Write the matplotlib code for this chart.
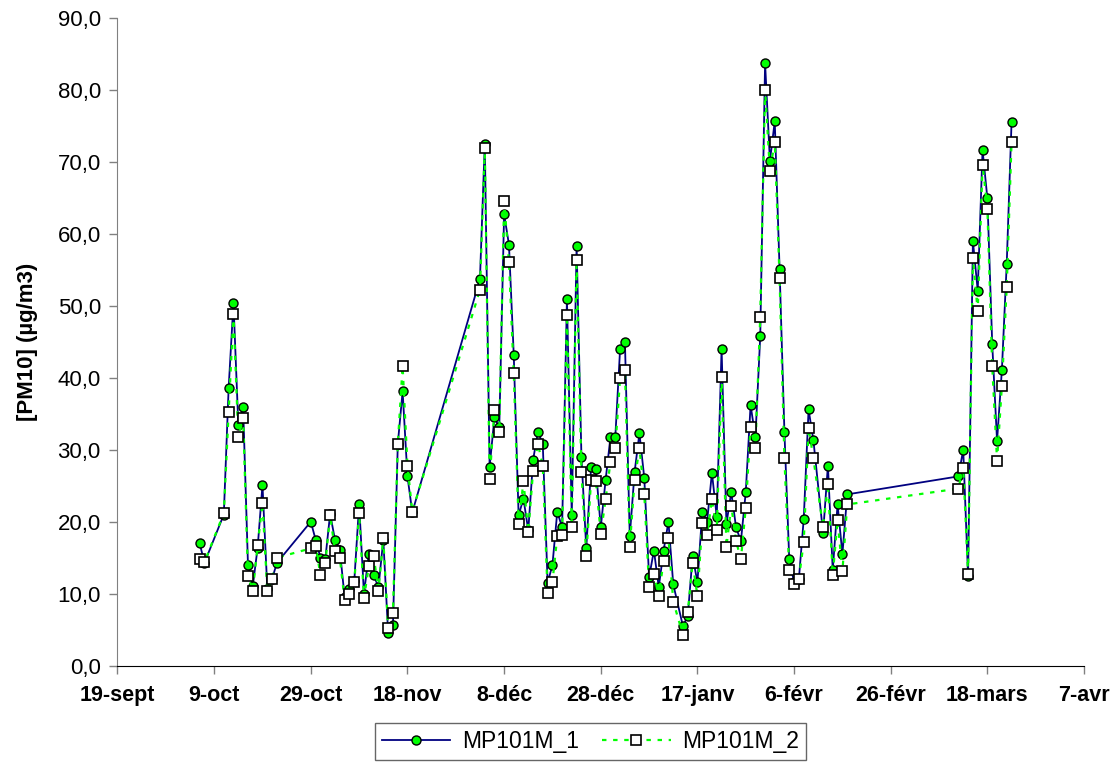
import datetime as dt
import matplotlib
matplotlib.use("Agg")
import matplotlib.pyplot as plt
import matplotlib.dates as mdates
from matplotlib.ticker import FuncFormatter

# --------------------------------
# DATA
# --------------------------------
start = dt.datetime(2006, 9, 19)

# day offsets from 19-sept
days = [17, 18, 22, 23, 24, 25, 26, 27, 28, 29, 30, 31, 32, 33,
        40, 41, 42, 43, 44, 45, 46, 47, 48, 49, 50, 51, 52, 53, 54, 55,
        56, 57, 58, 59, 60, 61,
        75, 76, 77, 78, 79, 80, 81, 82, 83, 84, 85, 86, 87, 88, 89, 90,
        91, 92, 93, 94, 95, 96, 97, 98, 99, 100, 101, 102, 103, 104, 105,
        106, 107, 108, 109, 110, 111, 112, 113, 114, 115, 117, 118, 119,
        120, 121, 122, 123, 124, 125, 126, 127, 128, 129, 130, 131, 132,
        133, 134, 135, 136, 137, 138, 139, 140, 141, 142, 143, 144, 146,
        147, 148, 149, 150, 151,
        174, 175, 176, 177, 178, 179, 180, 181, 182, 183, 184, 185]

mp101m_1 = [17.0, 14.3, 21.0, 38.6, 50.4, 33.5, 35.9, 14.0, 11.1, 16.4, 25.1, 10.7, 12.1, 14.3,
            20.0, 17.5, 15.0, 14.8, 21.1, 17.5, 16.1, 9.5, 10.6, 11.8, 22.4, 10.0, 15.5, 12.6, 10.9, 17.5,
            4.6, 5.6, 30.8, 38.1, 26.3, 21.3,
            53.7, 72.5, 27.6, 34.5, 33.1, 62.7, 58.5, 43.1, 20.9, 23.2, 18.8, 28.6, 32.5, 30.8, 11.5, 14.0,
            21.4, 19.2, 50.9, 20.9, 58.3, 29.0, 16.3, 27.6, 27.3, 19.2, 25.8, 31.7, 31.7, 44.0, 45.0,
            18.0, 26.9, 32.3, 26.1, 12.3, 16.0, 10.9, 16.0, 20.0, 11.3, 5.5, 6.9, 15.2,
            11.6, 21.4, 20.0, 26.8, 20.7, 44.0, 19.7, 24.1, 19.2, 17.3, 24.1, 36.2, 31.7,
            45.8, 83.7, 70.1, 75.6, 55.1, 32.5, 14.8, 11.6, 12.1, 20.4, 35.6, 31.3, 18.4,
            27.8, 13.3, 22.4, 15.5, 23.8,
            26.3, 30.0, 12.5, 59.0, 52.1, 71.6, 64.9, 44.7, 31.2, 41.1, 55.8, 75.5]

mp101m_2 = [14.8, 14.4, 21.2, 35.2, 48.9, 31.7, 34.4, 12.5, 10.4, 16.7, 22.6, 10.4, 12.1, 15.0,
            16.3, 16.6, 12.6, 14.2, 20.9, 16.0, 15.0, 9.1, 10.0, 11.6, 21.2, 9.4, 13.8, 15.3, 10.4, 17.7,
            5.3, 7.3, 30.8, 41.6, 27.8, 21.4,
            52.2, 71.9, 25.9, 35.5, 32.5, 64.5, 56.1, 40.6, 19.7, 25.6, 18.6, 27.1, 30.8, 27.8, 10.1, 11.6,
            18.0, 18.1, 48.7, 19.2, 56.4, 26.9, 15.3, 25.8, 25.6, 18.3, 23.1, 28.3, 30.2, 39.9, 41.1,
            16.5, 25.8, 30.2, 23.9, 10.9, 12.7, 9.7, 14.6, 17.7, 8.9, 4.3, 7.4, 14.3,
            9.7, 19.8, 18.2, 23.1, 18.8, 40.1, 16.5, 22.2, 17.3, 14.8, 21.9, 33.2, 30.3,
            48.5, 80.0, 68.7, 72.8, 53.8, 28.8, 13.3, 11.3, 12.1, 17.2, 33.0, 28.8, 19.2,
            25.3, 12.6, 20.2, 13.1, 22.4,
            24.6, 27.5, 12.8, 56.6, 49.2, 69.6, 63.5, 41.6, 28.5, 38.9, 52.6, 72.8]

tick_labels = ['19-sept', '9-oct', '29-oct', '18-nov', '8-déc', '28-déc',
               '17-janv', '6-févr', '26-févr', '18-mars', '7-avr']

dates = [start + dt.timedelta(days=d) for d in days]
tick_dates = [start + dt.timedelta(days=20 * i) for i in range(len(tick_labels))]

# --------------------------------
# PLOT
# --------------------------------
plt.rcParams['font.family'] = ['Liberation Sans', 'DejaVu Sans']

fig = plt.figure(figsize=(11.2, 7.78), dpi=100)
ax = fig.add_axes([0.1049, 0.1443, 0.863, 0.8329])

ax.plot(dates, mp101m_1, color='#000080', lw=1.3, ls='-',
        marker='o', markersize=6.5, markerfacecolor='#00FF00',
        markeredgecolor='black', markeredgewidth=1.0, label='MP101M_1', zorder=3)
ax.plot(dates, mp101m_2, color='#00FF00', lw=1.6, ls=(0, (2, 3)),
        marker='s', markersize=7, markerfacecolor='white',
        markeredgecolor='black', markeredgewidth=1.2, label='MP101M_2', zorder=4)

ax.set_xlim(start, start + dt.timedelta(days=200))
ax.set_ylim(0, 90)
ax.set_yticks(range(0, 91, 10))
ax.yaxis.set_major_formatter(FuncFormatter(lambda v, p: f'{v:.1f}'.replace('.', ',')))
ax.set_xticks(tick_dates)
ax.set_xticklabels(tick_labels, fontweight='bold')

for s in ['top', 'right']:
    ax.spines[s].set_visible(False)
ax.spines['left'].set_color('#808080')
ax.spines['bottom'].set_color('black')
ax.tick_params(axis='y', direction='out', length=6, width=1, color='#808080',
               labelsize=16, pad=6)
ax.tick_params(axis='x', direction='out', length=6, width=1, color='#808080',
               labelsize=15.5, pad=8)

ax.set_ylabel('[PM10] (µg/m3)', fontsize=16, fontweight='bold', labelpad=14)

leg = fig.legend(loc='center', bbox_to_anchor=(0.527, 0.047), ncol=2,
                 fontsize=16.5, frameon=True, fancybox=False, handlelength=3.0,
                 columnspacing=1.0, handletextpad=0.5, borderpad=0.3)
leg.get_frame().set_edgecolor('#404040')
leg.get_frame().set_linewidth(1.0)

fig.savefig('out.png', dpi=100)
